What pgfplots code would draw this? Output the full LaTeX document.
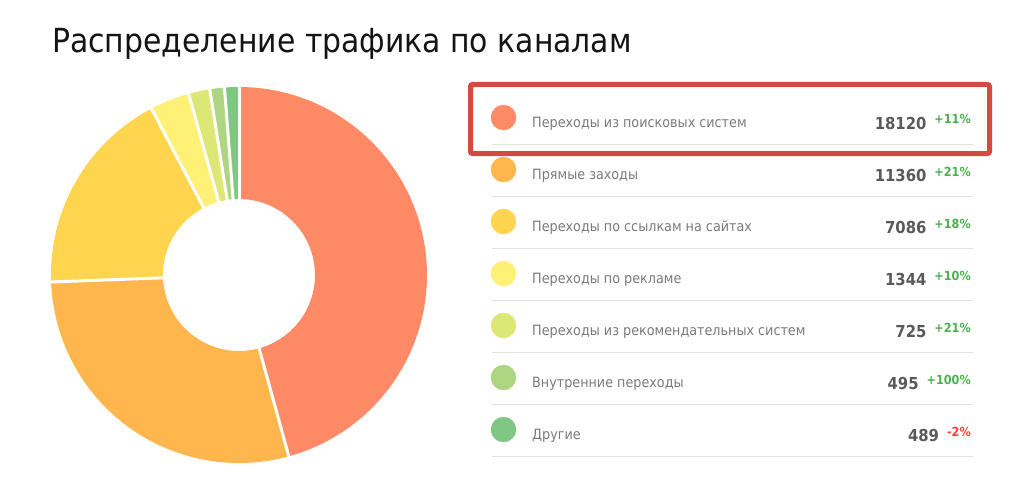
\documentclass[border=0pt]{standalone}
\usepackage{pgfplots}
\pgfplotsset{compat=1.18}
\usepackage{fontspec}
\setmainfont{DejaVu Sans}
\newfontfamily\cond{DejaVu Sans Condensed}
\definecolor{c1}{HTML}{FF8A65}
\definecolor{c2}{HTML}{FFB74D}
\definecolor{c3}{HTML}{FFD54F}
\definecolor{c4}{HTML}{FFF176}
\definecolor{c5}{HTML}{DCE775}
\definecolor{c6}{HTML}{AED581}
\definecolor{c7}{HTML}{81C784}
\definecolor{lbl}{HTML}{7A7A7A}
\definecolor{num}{HTML}{5A5A5A}
\definecolor{pos}{HTML}{4CAF50}
\definecolor{neg}{HTML}{F44336}
\definecolor{sep}{HTML}{E2E2E2}
\definecolor{box}{HTML}{D24A40}
% values
\def\vA{18120}\def\vB{11360}\def\vC{7086}\def\vD{1344}\def\vE{725}\def\vF{495}\def\vG{489}
\edef\tot{\fpeval{\vA+\vB+\vC+\vD+\vE+\vF+\vG}}
\edef\aO{90}
\edef\aA{\fpeval{\aO-360*\vA/\tot}}
\edef\aB{\fpeval{\aA-360*\vB/\tot}}
\edef\aC{\fpeval{\aB-360*\vC/\tot}}
\edef\aD{\fpeval{\aC-360*\vD/\tot}}
\edef\aE{\fpeval{\aD-360*\vE/\tot}}
\edef\aF{\fpeval{\aE-360*\vF/\tot}}
\edef\aG{\fpeval{\aF-360*\vG/\tot}}
\def\cx{239}\def\cy{208}
\begin{document}
\begin{tikzpicture}
\begin{axis}[
  scale only axis, width=1024pt, height=483pt,
  xmin=0, xmax=1024, ymin=0, ymax=483,
  hide axis, clip=false,
]
% page frame
\path (axis cs:0,0) rectangle (axis cs:1024,483);
% donut slices
\pgfplotsset{slice/.style={line width=112pt, line join=round, samples=90, no markers}}
\addplot[slice, c1, domain=\aA:\aO] ({\cx+132*cos(x)},{\cy+132*sin(x)});
\addplot[slice, c2, domain=\aB:\aA] ({\cx+132*cos(x)},{\cy+132*sin(x)});
\addplot[slice, c3, domain=\aC:\aB] ({\cx+132*cos(x)},{\cy+132*sin(x)});
\addplot[slice, c4, domain=\aD:\aC] ({\cx+132*cos(x)},{\cy+132*sin(x)});
\addplot[slice, c5, domain=\aE:\aD] ({\cx+132*cos(x)},{\cy+132*sin(x)});
\addplot[slice, c6, domain=\aF:\aE] ({\cx+132*cos(x)},{\cy+132*sin(x)});
\addplot[slice, c7, domain=\aG:\aF] ({\cx+132*cos(x)},{\cy+132*sin(x)});
% separators
\pgfplotsset{cut/.style={white, line width=3pt, samples=2, domain=70:195, no markers}}
\addplot[cut] ({\cx+x*cos(\aO)},{\cy+x*sin(\aO)});
\addplot[cut] ({\cx+x*cos(\aA)},{\cy+x*sin(\aA)});
\addplot[cut] ({\cx+x*cos(\aB)},{\cy+x*sin(\aB)});
\addplot[cut] ({\cx+x*cos(\aC)},{\cy+x*sin(\aC)});
\addplot[cut] ({\cx+x*cos(\aD)},{\cy+x*sin(\aD)});
\addplot[cut] ({\cx+x*cos(\aE)},{\cy+x*sin(\aE)});
\addplot[cut] ({\cx+x*cos(\aF)},{\cy+x*sin(\aF)});

% title
\node[anchor=base west, inner sep=0pt, font=\cond\fontsize{33.2}{40}\selectfont, text=black!92] at (axis cs:52,430) {Распределение трафика по каналам};

% separator lines
\addplot[sep, line width=1.5pt, no markers] coordinates {(492,338.5) (973,338.5)};
\addplot[sep, line width=1.5pt, no markers] coordinates {(492,286.5) (973,286.5)};
\addplot[sep, line width=1.5pt, no markers] coordinates {(492,234.5) (973,234.5)};
\addplot[sep, line width=1.5pt, no markers] coordinates {(492,182.5) (973,182.5)};
\addplot[sep, line width=1.5pt, no markers] coordinates {(492,130.5) (973,130.5)};
\addplot[sep, line width=1.5pt, no markers] coordinates {(492,78.5) (973,78.5)};
\addplot[sep, line width=1.5pt, no markers] coordinates {(492,26.5) (973,26.5)};

% legend markers
\pgfplotsset{dot/.style={only marks, mark=*, mark size=12.5pt}}
\addplot[dot, c1, mark options={fill=c1, draw=c1}] coordinates {(503.5,365.5)};
\addplot[dot, c2, mark options={fill=c2, draw=c2}] coordinates {(503.5,313.5)};
\addplot[dot, c3, mark options={fill=c3, draw=c3}] coordinates {(503.5,261.5)};
\addplot[dot, c4, mark options={fill=c4, draw=c4}] coordinates {(503.5,209.5)};
\addplot[dot, c5, mark options={fill=c5, draw=c5}] coordinates {(503.5,157.5)};
\addplot[dot, c6, mark options={fill=c6, draw=c6}] coordinates {(503.5,105.5)};
\addplot[dot, c7, mark options={fill=c7, draw=c7}] coordinates {(503.5,53.5)};

% labels
\tikzset{lab/.style={anchor=base west, inner sep=0pt, text=lbl, font=\cond\fontsize{14.2}{17}\selectfont},
         val/.style={anchor=base east, inner sep=0pt, text=num, font=\cond\bfseries\fontsize{16.5}{20}\selectfont}}
\newcommand\pc[2]{\hspace{8pt}\raisebox{5pt}{\color{#1}\bfseries\fontsize{12.5}{14}\selectfont #2}}
\node[lab] at (axis cs:532,356) {Переходы из поисковых систем};
\node[lab] at (axis cs:532,304) {Прямые заходы};
\node[lab] at (axis cs:532,252) {Переходы по ссылкам на сайтах};
\node[lab] at (axis cs:532,200) {Переходы по рекламе};
\node[lab] at (axis cs:532,148) {Переходы из рекомендательных систем};
\node[lab] at (axis cs:532,96) {Внутренние переходы};
\node[lab] at (axis cs:532,44) {Другие};

\node[val] at (axis cs:971,354) {\vA\pc{pos}{+11\%}};
\node[val] at (axis cs:971,302) {\vB\pc{pos}{+21\%}};
\node[val] at (axis cs:971,250) {\vC\pc{pos}{+18\%}};
\node[val] at (axis cs:971,198) {\vD\pc{pos}{+10\%}};
\node[val] at (axis cs:971,146) {\vE\pc{pos}{+21\%}};
\node[val] at (axis cs:971,94) {\vF\pc{pos}{+100\%}};
\node[val] at (axis cs:971,42) {\vG\pc{neg}{-2\%}};

% highlight box
\draw[box, line width=5pt, rounded corners=2pt] (axis cs:470.5,398.5) rectangle (axis cs:989.5,329.5);
\end{axis}
\end{tikzpicture}
\end{document}
